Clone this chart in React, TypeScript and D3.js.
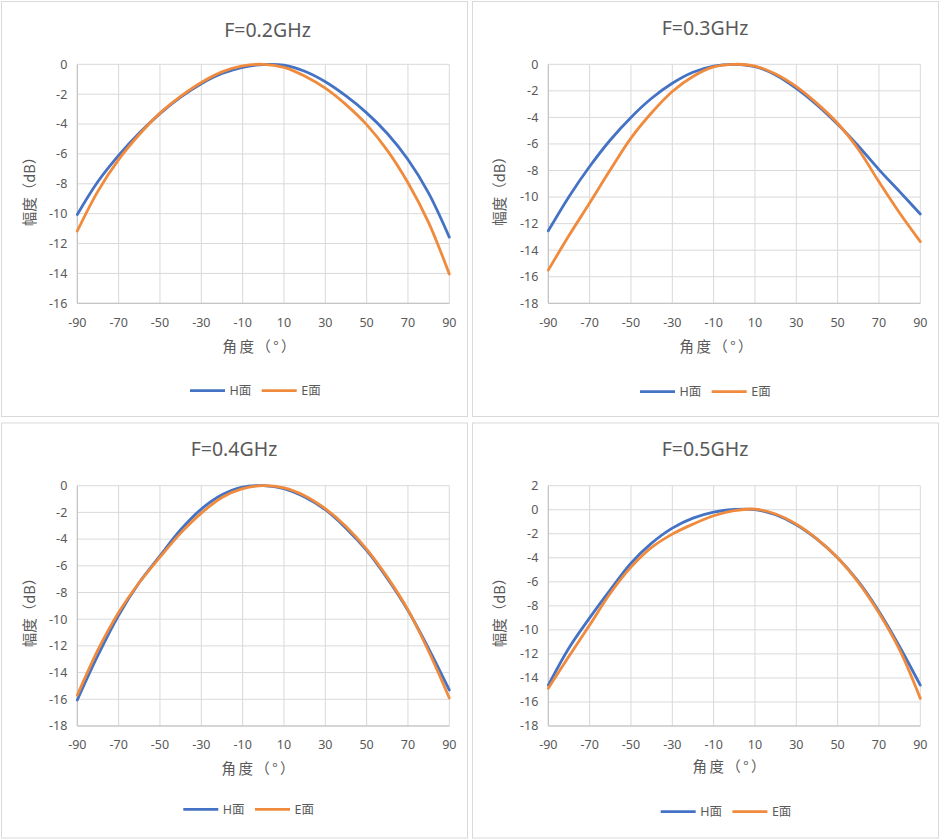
import React from 'react';
import * as d3 from 'd3';

// ---------- data ----------
const angles = [-90, -80, -70, -60, -50, -40, -30, -20, -10, 0, 10, 20, 30, 40, 50, 60, 70, 80, 90];
const xTicks = [-90, -70, -50, -30, -10, 10, 30, 50, 70, 90];
const seriesNames = ['H面', 'E面'];
const titles = ['F=0.2GHz', 'F=0.3GHz', 'F=0.4GHz', 'F=0.5GHz'];

const h02 = [-10.05, -7.85, -6.1, -4.6, -3.3, -2.2, -1.3, -0.62, -0.2, -0.02, -0.06, -0.47, -1.17, -2.12, -3.25, -4.63, -6.37, -8.62, -11.57];
const e02 = [-11.16, -8.49, -6.38, -4.7, -3.27, -2.15, -1.22, -0.51, -0.11, 0, -0.2, -0.78, -1.6, -2.7, -4.04, -5.76, -7.93, -10.6, -14.04];

const h03 = [-12.54, -9.97, -7.7, -5.7, -4.0, -2.56, -1.43, -0.6, -0.13, 0, -0.18, -0.8, -1.81, -3.06, -4.52, -6.15, -7.93, -9.59, -11.27];
const e03 = [-15.5, -12.9, -10.45, -7.95, -5.56, -3.65, -2.05, -0.92, -0.2, 0, -0.13, -0.73, -1.68, -2.94, -4.44, -6.4, -8.85, -11.2, -13.35];

const h04 = [-16.05, -12.7, -9.7, -7.25, -5.25, -3.3, -1.75, -0.68, -0.1, 0, -0.22, -0.85, -1.8, -3.18, -4.85, -6.95, -9.35, -12.2, -15.3];
const e04 = [-15.7, -12.3, -9.5, -7.25, -5.35, -3.55, -2.05, -0.88, -0.22, 0, -0.17, -0.75, -1.72, -3.05, -4.75, -6.85, -9.3, -12.4, -15.9];

const h05 = [-14.6, -11.5, -9.0, -6.67, -4.45, -2.78, -1.53, -0.7, -0.2, 0.02, 0.02, -0.42, -1.25, -2.45, -4.0, -5.97, -8.47, -11.4, -14.6];
const e05 = [-14.86, -12.2, -9.6, -6.95, -4.78, -3.14, -2.03, -1.2, -0.5, -0.08, 0.05, -0.36, -1.2, -2.42, -4.0, -6.05, -8.6, -11.67, -15.7];

const yTicks02 = [0, -2, -4, -6, -8, -10, -12, -14, -16];
const yTicks03 = [0, -2, -4, -6, -8, -10, -12, -14, -16, -18];
const yTicks04 = [0, -2, -4, -6, -8, -10, -12, -14, -16, -18];
const yTicks05 = [2, 0, -2, -4, -6, -8, -10, -12, -14, -16, -18];

// ---------- layout ----------
const colors = ['#4472C4', '#F08A3C'];
const latin = "'Noto Sans', 'Noto Sans CJK SC', sans-serif";
const cjk = "'Noto Sans CJK SC', 'Noto Sans', sans-serif";
const textColor = '#595959';

const panels = [
  { title: titles[0], h: h02, e: e02, yTicks: yTicks02, box: [1, 1, 466, 415], plot: [77.3, 64.3, 449.3, 303.3], titleX: 267.5, titleY: 36.7, xTitleX: 259, xTitleY: 352, yTitleX: 30, yTitleY: 188, legendX: 190, legendY: 390.7 },
  { title: titles[1], h: h03, e: e03, yTicks: yTicks03, box: [472, 1, 466, 415], plot: [548.3, 64.3, 920.3, 303.3], titleX: 705, titleY: 35, xTitleX: 716, xTitleY: 352, yTitleX: 500, yTitleY: 187.5, legendX: 640, legendY: 391.7 },
  { title: titles[2], h: h04, e: e04, yTicks: yTicks04, box: [1, 422.5, 466, 415], plot: [77.3, 485.7, 449.3, 726], titleX: 234, titleY: 455.7, xTitleX: 258, xTitleY: 774, yTitleX: 30, yTitleY: 609, legendX: 183.3, legendY: 809.3 },
  { title: titles[3], h: h05, e: e05, yTicks: yTicks05, box: [472, 422.5, 466, 415], plot: [548.3, 485.7, 920.3, 726], titleX: 705, titleY: 455.7, xTitleX: 729, xTitleY: 772, yTitleX: 500, yTitleY: 609, legendX: 660.7, legendY: 811.7 },
];

function Panel({ p }: { p: any }) {
  const [x0, y0, x1, y1] = p.plot;
  const yMax = d3.max(p.yTicks as number[])!;
  const yMin = d3.min(p.yTicks as number[])!;
  const x = d3.scaleLinear().domain([-90, 90]).range([x0, x1]);
  const y = d3.scaleLinear().domain([yMin, yMax]).range([y1, y0]);
  const line = d3
    .line<number>()
    .x((_, i) => x(angles[i]))
    .y((d) => y(d))
    .curve(d3.curveCatmullRom.alpha(0.5));
  const series = [p.h, p.e];
  const [bx, by, bw, bh] = p.box;
  return (
    <g>
      <rect x={bx + 0.5} y={by + 0.5} width={bw} height={bh} fill="#fff" stroke="#d9d9d9" strokeWidth={1} />
      <text x={p.titleX} y={p.titleY} textAnchor="middle" fontFamily={latin} fontSize={19.5} fill={textColor}>
        {p.title}
      </text>
      {/* grid */}
      {(p.yTicks as number[]).map((t) => (
        <line key={'gy' + t} x1={x0} x2={x1} y1={y(t)} y2={y(t)} stroke="#d9d9d9" strokeWidth={1} />
      ))}
      {xTicks.map((t) => (
        <line key={'gx' + t} x1={x(t)} x2={x(t)} y1={y0} y2={y1} stroke="#d9d9d9" strokeWidth={1} />
      ))}
      {/* axes */}
      <line x1={x0} x2={x0} y1={y0} y2={y1} stroke="#bfbfbf" strokeWidth={1} />
      <line x1={x0} x2={x1} y1={y1} y2={y1} stroke="#bfbfbf" strokeWidth={1} />
      {(p.yTicks as number[]).map((t) => (
        <text key={'ly' + t} x={x0 - 10} y={y(t)} dy="0.35em" textAnchor="end" fontFamily={latin} fontSize={12.5} fill={textColor}>
          {t}
        </text>
      ))}
      {xTicks.map((t) => (
        <text key={'lx' + t} x={x(t)} y={y1 + 19} dy="0.35em" textAnchor="middle" fontFamily={latin} fontSize={12.5} fill={textColor}>
          {t}
        </text>
      ))}
      {/* axis titles */}
      <text
        x={p.xTitleX - 36.5}
        y={p.xTitleY}
        textLength={73}
        lengthAdjust="spacing"
        fontFamily={cjk}
        fontSize={14.5}
        fill={textColor}
      >
        角度（°）
      </text>
      <text
        transform={`translate(${p.yTitleX},${p.yTitleY}) rotate(-90)`}
        textAnchor="middle"
        dy="0.35em"
        fontFamily={cjk}
        fontSize={14.5}
        fill={textColor}
      >
        幅度（dB）
      </text>
      {/* series */}
      {series.map((s: number[], i: number) => (
        <path key={'s' + i} d={line(s) || ''} fill="none" stroke={colors[i]} strokeWidth={2.8} strokeLinecap="round" strokeLinejoin="round" />
      ))}
      {/* legend */}
      {seriesNames.map((n, i) => {
        const lx = p.legendX + i * 71.7;
        return (
          <g key={'lg' + i}>
            <line x1={lx} x2={lx + 35} y1={p.legendY} y2={p.legendY} stroke={colors[i]} strokeWidth={2.8} />
            <text x={lx + 39.5} y={p.legendY} dy="0.35em" fontFamily={latin} fontSize={12.5} fill={textColor}>
              {n}
            </text>
          </g>
        );
      })}
    </g>
  );
}

export default function App() {
  return (
    <svg width={939} height={840} style={{ position: 'absolute', left: 0, top: 0, background: '#fff' }}>
      <rect x={0} y={0} width={939} height={840} fill="#fff" />
      {panels.map((p, i) => (
        <Panel key={i} p={p} />
      ))}
    </svg>
  );
}
